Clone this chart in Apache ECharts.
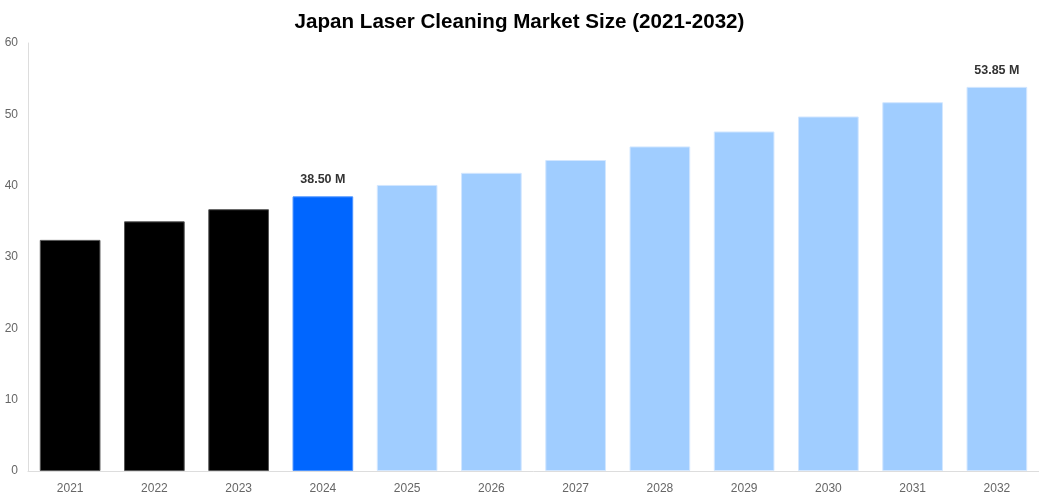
<!DOCTYPE html>
<html><head><meta charset="utf-8">
<script src="https://cdn.jsdelivr.net/npm/echarts@6/dist/echarts.min.js"></script>
<style>html,body{margin:0;padding:0;background:#fff}#c{width:1039px;height:500px}</style>
</head><body><div id="c"></div>
<script>
var title = 'Japan Laser Cleaning Market Size (2021-2032)';
var years = ['2021','2022','2023','2024','2025','2026','2027','2028','2029','2030','2031','2032'];
var values = [32.4, 35.0, 36.7, 38.5, 40.1, 41.8, 43.6, 45.5, 47.6, 49.7, 51.7, 53.85];
var labeledYears = ['2024','2032'];
var yTicks = [0, 10, 20, 30, 40, 50, 60];

function barColor(y){
  var n = +y;
  if (n < 2024) return {fill:'#000000', border:'#555555'};
  if (n === 2024) return {fill:'#0066ff', border:'#4d94ff'};
  return {fill:'#a0cdff', border:'#d3e7ff'};
}

var chart = echarts.init(document.getElementById('c'));
chart.setOption({
  animation:false,
  title:{text:title,left:'center',top:7,textStyle:{fontFamily:'Liberation Sans, Arial, sans-serif',fontSize:20.6,fontWeight:'bold',color:'#000'}},
  grid:{left:28,right:0,top:43,bottom:29,containLabel:false},
  xAxis:{type:'category',data:years,
    axisLine:{show:true,lineStyle:{color:'#dddddd'}},axisTick:{show:false},
    axisLabel:{color:'#666',fontSize:12,fontFamily:'Liberation Sans, Arial, sans-serif',margin:12}},
  yAxis:{type:'value',min:yTicks[0],max:yTicks[yTicks.length-1],interval:10,
    axisLine:{show:true,lineStyle:{color:'#dddddd'}},axisTick:{show:false},splitLine:{show:false},
    axisLabel:{color:'#666',fontSize:12,fontFamily:'Liberation Sans, Arial, sans-serif',margin:10}},
  series:[{type:'bar',barCategoryGap:'28%',
    data:years.map(function(y,i){
      var c = barColor(y);
      return {value:values[i],
        itemStyle:{color:c.fill,borderColor:c.border,borderWidth:1},
        label:{show:labeledYears.indexOf(y)>=0,position:'top',distance:10,
          formatter:function(p){return p.value.toFixed(2)+' M';},
          color:'#333',fontWeight:'bold',fontSize:12.5,fontFamily:'Liberation Sans, Arial, sans-serif'}};
    })
  }]
});
</script></body></html>
